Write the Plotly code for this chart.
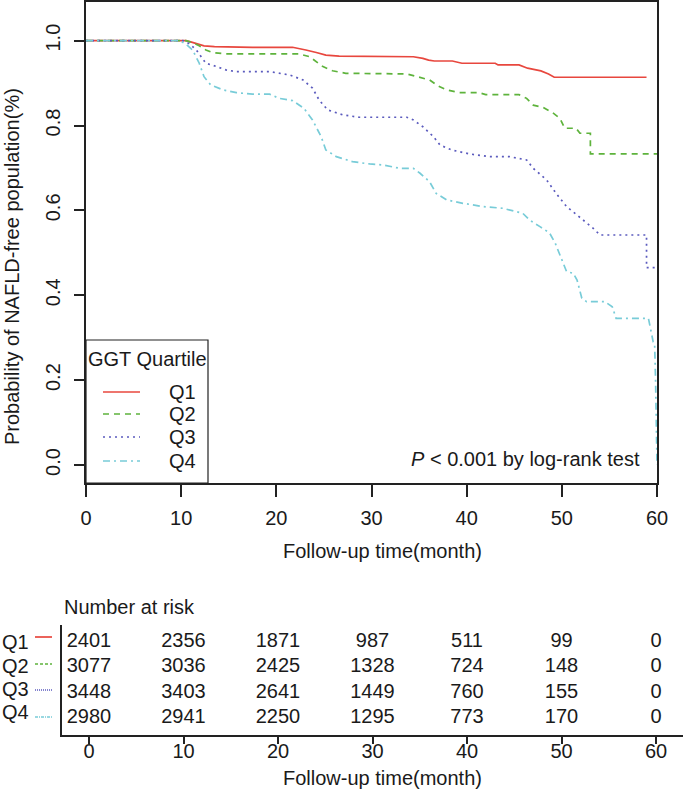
import plotly.graph_objects as go

W, H = 685, 797
FONT = "Liberation Sans, Arial, sans-serif"
TXT = "#1a1a1a"

# ---------------- data ----------------
groups = ["Q1", "Q2", "Q3", "Q4"]

q1_t = [0, 10.5, 11.0, 11.6, 12.4, 13.5, 17.5, 21.7, 22.5, 23.1, 24.2, 25.2, 26.6, 28.7, 29.2, 34.4,
        35.4, 36.0, 36.6, 38.5, 39.5, 43.0, 43.3, 45.5, 46.4, 47.8, 48.6, 49.2, 58.9]
q1_s = [1.0, 1.0, 0.997, 0.993, 0.9875, 0.986, 0.9843, 0.9843, 0.981, 0.978, 0.972, 0.966, 0.9635, 0.9635, 0.962, 0.962,
        0.958, 0.954, 0.952, 0.952, 0.9467, 0.9467, 0.9427, 0.9427, 0.935, 0.9286, 0.9215, 0.9137, 0.9137]

q2_t = [0, 10.5, 11.2, 11.9, 12.6, 13.3, 14.7, 22.4, 23.5, 24.2, 24.9, 25.9, 27.3, 33.7, 34.7, 36.1, 37.0,
        37.9, 39.2, 41.3, 42.0, 45.5, 46.3, 47.0, 48.0, 49.1, 49.8, 50.3, 51.5, 51.9, 53.0, 53.0, 60]
q2_s = [1.0, 1.0, 0.995, 0.988, 0.978, 0.972, 0.9687, 0.9687, 0.962, 0.9505, 0.9387, 0.929, 0.923, 0.9215, 0.915, 0.9074, 0.893,
        0.8838, 0.8775, 0.8775, 0.8727, 0.8727, 0.864, 0.848, 0.843, 0.829, 0.817, 0.7935, 0.7935, 0.7817, 0.7817, 0.733, 0.733]

q3_t = [0, 10.2, 10.9, 11.6, 12.1, 12.6, 13.7, 14.7, 15.8, 19.3, 21.4, 22.8, 23.8, 24.5, 25.4, 27.0, 28.7, 33.7,
        34.4, 35.4, 36.5, 37.2, 38.4, 40.3, 42.4, 44.5, 46.3, 47.0, 48.4, 49.4, 50.5, 52.2, 53.3, 54.0, 58.9, 58.9, 60]
q3_s = [1.0, 1.0, 0.992, 0.978, 0.962, 0.9467, 0.939, 0.931, 0.927, 0.927, 0.919, 0.9074, 0.888, 0.860, 0.8367, 0.825, 0.8194, 0.8194,
        0.813, 0.797, 0.774, 0.754, 0.7424, 0.733, 0.7266, 0.7266, 0.7188, 0.699, 0.6717, 0.640, 0.609, 0.5774, 0.5578, 0.542, 0.542, 0.465, 0.465]

q4_t = [0, 9.8, 10.5, 11.2, 11.9, 12.4, 13.1, 14.4, 15.8, 17.5, 19.3, 20.3, 21.7, 22.9, 23.8, 24.7, 25.2, 26.3, 28.0,
        29.8, 31.2, 33.0, 34.4, 35.1, 36.1, 36.8, 37.9, 39.6, 41.7, 43.8, 45.9, 46.6, 47.7, 48.4, 48.7, 49.3, 50.0, 50.5,
        51.2, 51.6, 52.1, 52.6, 54.5, 55.3, 55.7, 59.1, 59.6, 59.75, 59.85, 60]
q4_s = [1.0, 1.0, 0.992, 0.978, 0.9467, 0.915, 0.8956, 0.8838, 0.8775, 0.8737, 0.8737, 0.864, 0.8586, 0.8406, 0.813, 0.774, 0.7424, 0.7266, 0.7148,
        0.7094, 0.707, 0.699, 0.699, 0.6875, 0.6677, 0.640, 0.6246, 0.6167, 0.609, 0.6049, 0.593, 0.5774, 0.5617, 0.55, 0.547, 0.523, 0.483, 0.4556,
        0.4518, 0.436, 0.393, 0.385, 0.385, 0.373, 0.3457, 0.3457, 0.29, 0.287, 0.2, 0.0]

risk_times = [0, 10, 20, 30, 40, 50, 60]
risk_q1 = [2401, 2356, 1871, 987, 511, 99, 0]
risk_q2 = [3077, 3036, 2425, 1328, 724, 148, 0]
risk_q3 = [3448, 3403, 2641, 1449, 760, 155, 0]
risk_q4 = [2980, 2941, 2250, 1295, 773, 170, 0]

x_ticks = [0, 10, 20, 30, 40, 50, 60]
y_ticks = [0.0, 0.2, 0.4, 0.6, 0.8, 1.0]
y_ticktext = ["0.0", "0.2", "0.4", "0.6", "0.8", "1.0"]

# ---------------- styles ----------------
colors = ["#E8473E", "#5EB33C", "#5B5BBE", "#78CCD8"]
dashes = ["solid", "6px,5px", "2px,4px", "7px,4px,2px,4px"]
times = [q1_t, q2_t, q3_t, q4_t]
survs = [q1_s, q2_s, q3_s, q4_s]
risks = [risk_q1, risk_q2, risk_q3, risk_q4]


def px(x):
    return x / W


def py(y):
    return 1 - y / H


fig = go.Figure()

for g, t, s, c, d in zip(groups, times, survs, colors, dashes):
    fig.add_trace(go.Scatter(x=t, y=s, mode="lines", name=g, showlegend=False,
                             line=dict(color=c, width=1.7, dash=d), xaxis="x", yaxis="y"))

# risk table numbers
row_pos = [4, 3, 2, 1]
for g, r, rp in zip(groups, risks, row_pos):
    fig.add_trace(go.Scatter(x=risk_times, y=[rp] * len(risk_times), mode="text",
                             text=[str(v) for v in r], textposition="middle center",
                             textfont=dict(family=FONT, size=20, color=TXT),
                             showlegend=False, cliponaxis=False, xaxis="x2", yaxis="y2"))

axis_common = dict(showgrid=False, zeroline=False, showline=True, linecolor="#222",
                   linewidth=1.5, ticks="outside", tickcolor="#222", tickwidth=1.5,
                   tickfont=dict(family=FONT, size=20, color=TXT))

fig.update_layout(
    width=W, height=H, paper_bgcolor="white", plot_bgcolor="white",
    margin=dict(l=0, r=0, t=0, b=0, autoexpand=False),
    xaxis=dict(domain=[px(86), px(657)], range=[0, 60], tickvals=x_ticks, ticklen=12,
               mirror=True, anchor="y", ticklabelstandoff=4, **axis_common),
    yaxis=dict(domain=[py(483), py(2)], range=[-0.0424, 1.091], tickvals=y_ticks,
               ticktext=y_ticktext, ticklen=10, tickangle=-90, mirror=True, anchor="x",
               ticklabelstandoff=6, **axis_common),
    xaxis2=dict(domain=[px(62), px(683)], range=[-2.857, 62.857], tickvals=x_ticks,
                ticklen=7, anchor="y2", ticklabelstandoff=-10, **axis_common),
    yaxis2=dict(domain=[py(735), py(625)], range=[0.324, 4.672], showgrid=False,
                zeroline=False, showline=True, linecolor="#222", linewidth=1.5,
                showticklabels=False, ticks="", anchor="x2"),
)

P = dict(xref="paper", yref="paper", showarrow=False)
ann = []
# axis titles
ann.append(dict(x=px(382), y=py(551), text="Follow-up time(month)",
                xanchor="center", yanchor="middle", font=dict(family=FONT, size=20, color=TXT), **P))
ann.append(dict(x=px(12), y=py(267), text="Probability of NAFLD-free population(%)",
                textangle=-90, xanchor="center", yanchor="middle",
                font=dict(family=FONT, size=20, color=TXT), **P))
ann.append(dict(x=px(382), y=py(778), text="Follow-up time(month)",
                xanchor="center", yanchor="middle", font=dict(family=FONT, size=20, color=TXT), **P))
# p-value
ann.append(dict(x=px(642), y=py(459), text="<i>P</i> < 0.001 by log-rank test",
                xanchor="right", yanchor="middle", font=dict(family=FONT, size=20, color=TXT), **P))
# legend
ann.append(dict(x=px(86), y=py(359), text="GGT Quartile",
                xanchor="left", yanchor="middle", font=dict(family=FONT, size=20, color=TXT), **P))
leg_y = [392, 414, 437, 461]
shapes = [dict(type="rect", xref="paper", yref="paper", x0=px(86), x1=px(208),
               y0=py(483), y1=py(340), line=dict(color="#222", width=1.2))]
for g, c, d, yy in zip(groups, colors, dashes, leg_y):
    shapes.append(dict(type="line", xref="paper", yref="paper", x0=px(103), x1=px(140),
                       y0=py(yy), y1=py(yy), line=dict(color=c, width=1.7, dash=d)))
    ann.append(dict(x=px(167), y=py(yy), text=g, xanchor="left",
                    yanchor="middle", font=dict(family=FONT, size=20, color=TXT), **P))
# risk table
ann.append(dict(x=px(62), y=py(607), text="Number at risk",
                xanchor="left", yanchor="middle", font=dict(family=FONT, size=20, color=TXT), **P))
row_lab_y = [642, 666, 689, 712]
row_line_y = [637, 664, 690, 717]
row_dash = ["solid", "3px,2px", "1px,1px", "3px,1px,1px,1px"]
for g, c, d, yl, ys in zip(groups, colors, row_dash, row_lab_y, row_line_y):
    ann.append(dict(x=px(0), y=py(yl), text=g, xanchor="left",
                    yanchor="middle", font=dict(family=FONT, size=20, color=TXT), **P))
    shapes.append(dict(type="line", xref="paper", yref="paper", x0=px(35), x1=px(52),
                       y0=py(ys), y1=py(ys), line=dict(color=c, width=1.7, dash=d)))

fig.update_layout(annotations=ann, shapes=shapes)
fig.write_html("out.html", config={"displayModeBar": False},
               post_script="document.body.style.margin='0';document.body.style.overflow='hidden';")
